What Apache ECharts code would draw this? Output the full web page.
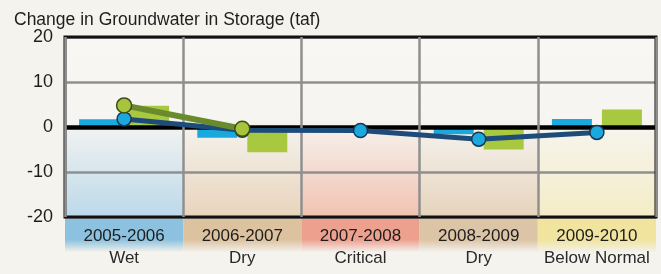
<!DOCTYPE html>
<html>
<head>
<meta charset="utf-8">
<script src="https://cdn.jsdelivr.net/npm/echarts@6/dist/echarts.min.js"></script>
<style>
html,body{margin:0;padding:0;background:#f5f3ee;}
#c{width:661px;height:274px;}
</style>
</head>
<body>
<div id="c"></div>
<script>
var years = ['2005-2006','2006-2007','2007-2008','2008-2009','2009-2010'];
var yearTypes = ['Wet','Dry','Critical','Dry','Below Normal'];
var blueBars = [1.7, -2.4, 0, -1.6, 1.8];
var greenBars = [4.7, -5.6, 0, -5.0, 3.9];
var blueLine = [1.8, -0.7, -0.8, -2.7, -1.2];
var greenLine = [4.8, -0.4, null, null, null];
var yTicks = [-20, -10, 0, 10, 20];
var columnColors = ['#bcd9ea', '#e8d4bc', '#f2c2b2', '#e6d3bd', '#f4ecc6'];
var bandColors = ['#8cc2df', '#dcc29f', '#eea08f', '#dcc4a6', '#f0e49e'];

function colGrad(c){
  return new echarts.graphic.LinearGradient(0,0,0,1,[
    {offset:0,color:'#f8f7f3'},{offset:0.45,color:'#f6f5f1'},{offset:1,color:c}]);
}
function bandGrad(c){
  return new echarts.graphic.LinearGradient(0,0,0,1,[
    {offset:0,color:c},{offset:0.65,color:c},{offset:1,color:'#f3f1ec'}]);
}

var chart = echarts.init(document.getElementById('c'));
var FONT = 'Liberation Sans, Arial, sans-serif';
chart.setOption({
  backgroundColor:'#f5f3ee',
  animation:false,
  textStyle:{fontFamily:FONT},
  title:{text:'Change in Groundwater in Storage (taf)',left:9,top:6,
    textStyle:{fontSize:17.5,fontWeight:'normal',color:'#1e1e1e',fontFamily:FONT}},
  grid:[
    {left:65,right:5,top:37,height:180,show:true,borderColor:'#111',borderWidth:3,backgroundColor:'transparent',z:8},
    {left:65,right:5,top:217,height:35,show:false}
  ],
  xAxis:[
    {type:'category',gridIndex:0,data:years,z:9,
     axisLine:{show:false},axisTick:{show:false},
     splitLine:{show:true,lineStyle:{color:'#8f8f8f',width:2.5}},
     axisLabel:{margin:8,interval:0,
       formatter:function(v,i){return '{y|'+v+'}\n{t|'+yearTypes[i]+'}';},
       rich:{y:{fontSize:17,color:'#1e1e1e',lineHeight:22,fontFamily:FONT},
             t:{fontSize:17,color:'#2a2a2a',lineHeight:22,fontFamily:FONT}}}},
    {type:'category',gridIndex:0,data:years,show:false},
    {type:'category',gridIndex:1,data:years,show:false}
  ],
  yAxis:[
    {type:'value',gridIndex:0,min:-20,max:20,interval:10,z:3,
     axisLine:{show:false},axisTick:{show:false},
     splitLine:{show:true,lineStyle:{color:'#8f8f8f',width:2.5}},
     axisLabel:{margin:12,fontSize:18,color:'#1e1e1e',fontFamily:FONT,
       formatter:function(v){return yTicks.indexOf(v)>=0?String(v):'';}}},
    {type:'value',gridIndex:0,min:0,max:1,show:false},
    {type:'value',gridIndex:1,min:0,max:1,show:false}
  ],
  series:[
    {type:'bar',xAxisIndex:1,yAxisIndex:1,barWidth:'100%',silent:true,z:0,
     data:columnColors.map(function(c){return {value:1,itemStyle:{color:colGrad(c)}};})},
    {type:'bar',xAxisIndex:2,yAxisIndex:2,barWidth:'100%',silent:true,z:0,
     data:bandColors.map(function(c){return {value:1,itemStyle:{color:bandGrad(c)}};})},
    {type:'bar',xAxisIndex:0,yAxisIndex:0,data:blueBars,barWidth:40,barGap:'25%',z:4,
     itemStyle:{color:'#1aa9df'}},
    {type:'bar',xAxisIndex:0,yAxisIndex:0,data:greenBars,barWidth:40,z:4,
     itemStyle:{color:'#a8c83f'},
     markLine:{silent:true,symbol:'none',label:{show:false},
       lineStyle:{color:'#000',width:4.5,type:'solid'},data:[{yAxis:0}]}},
    {type:'line',xAxisIndex:0,yAxisIndex:0,data:blueLine,z:10,
     symbol:'circle',symbolSize:14,
     lineStyle:{color:'#1d4c7a',width:5},
     itemStyle:{color:'#1aa9df',borderColor:'#1d3550',borderWidth:1.5}},
    {type:'line',xAxisIndex:0,yAxisIndex:0,data:greenLine,z:11,
     symbol:'circle',symbolSize:15,
     lineStyle:{color:'#6a8a2e',width:6},
     itemStyle:{color:'#a8c43c',borderColor:'#3b4d1a',borderWidth:1.5}}
  ]
});
</script>
</body>
</html>
